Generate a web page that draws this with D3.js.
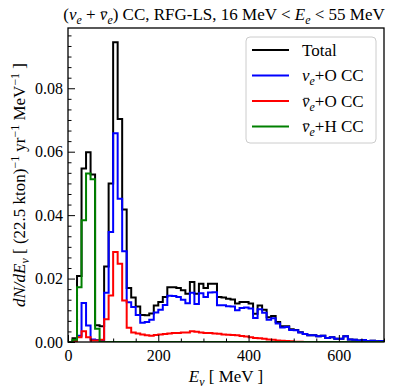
<!DOCTYPE html>
<html lang="en">
<head>
<meta charset="utf-8" />
<title></title>
<style>
  body { margin: 0; background: #fff; }
  text { font-family: "Liberation Serif", "Times New Roman", serif; fill: #000; }
</style>
</head>
<body>
<script src="https://d3js.org/d3.v7.min.js"></script>
<div id="my_dataviz"></div>
<script>
// bin lower edges (MeV), 10 MeV wide
const binWidth = 10;
const binEdges = d3.range(0, 700, binWidth);

// dN/dE values per bin
const totalCC = [
  0, 0.0012, 0.0208, 0.0547, 0.0598, 0.0528, 0.0053, 0.0050, 0.0238, 0.0500,
  0.0945, 0.0703, 0.0418, 0.0170, 0.0140, 0.0112, 0.0085, 0.0084, 0.0090, 0.0115,
  0.0126, 0.0142, 0.0173, 0.0173, 0.0170, 0.0163, 0.0152, 0.0189, 0.0152, 0.0184,
  0.0170, 0.0184, 0.0184, 0.0142, 0.0140, 0.0136, 0.0134, 0.0121, 0.0126, 0.0126,
  0.0121, 0.0089, 0.0115, 0.0102, 0.0078, 0.0082, 0.0063, 0.0050, 0.0050, 0.0040,
  0.0038, 0.0031, 0.0025, 0.0021, 0.0021, 0.0018, 0.0020, 0.0013, 0.0015, 0.0010,
  0.0010, 0.0018, 0.0008, 0.0007, 0.0005, 0.0006, 0.0003, 0.0004, 0.0002, 0.0003
];
const nueO = [
  0, 0.0003, 0.0020, 0.0123, 0.0052, 0.0008, 0.0006, 0.0006, 0.0155, 0.0347,
  0.0658, 0.0452, 0.0286, 0.0125, 0.0110, 0.0085, 0.0061, 0.0063, 0.0070, 0.0093,
  0.0102, 0.0117, 0.0146, 0.0145, 0.0142, 0.0133, 0.0122, 0.0155, 0.0120, 0.0154,
  0.0142, 0.0156, 0.0157, 0.0116, 0.0116, 0.0113, 0.0112, 0.0100, 0.0107, 0.0109,
  0.0106, 0.0076, 0.0103, 0.0092, 0.0070, 0.0075, 0.0058, 0.0046, 0.0047, 0.0038,
  0.0037, 0.0030, 0.0025, 0.0021, 0.0021, 0.0018, 0.0020, 0.0013, 0.0015, 0.0010,
  0.0010, 0.0018, 0.0008, 0.0007, 0.0005, 0.0006, 0.0003, 0.0004, 0.0002, 0.0003
];
const nuebarO = [
  0, 0.0002, 0.0015, 0.0034, 0.0015, 0.0005, 0.0005, 0.0007, 0.0072, 0.0147,
  0.0284, 0.0247, 0.0131, 0.0045, 0.0030, 0.0027, 0.0024, 0.0021, 0.0020, 0.0022,
  0.0024, 0.0025, 0.0027, 0.0028, 0.0028, 0.0030, 0.0030, 0.0034, 0.0032, 0.0030,
  0.0028, 0.0028, 0.0027, 0.0026, 0.0024, 0.0023, 0.0022, 0.0021, 0.0019, 0.0017,
  0.0015, 0.0013, 0.0012, 0.0010, 0.0008, 0.0007, 0.0005, 0.0004, 0.0003, 0.0002,
  0.0001, 0.0001, 0, 0, 0, 0, 0, 0, 0, 0,
  0, 0, 0, 0, 0, 0, 0, 0, 0, 0
];
const nuebarH = [
  0, 0.0007, 0.0173, 0.0384, 0.0531, 0.0513, 0.0042, 0, 0, 0,
  0, 0, 0, 0, 0, 0, 0, 0, 0, 0,
  0, 0, 0, 0, 0, 0, 0, 0, 0, 0,
  0, 0, 0, 0, 0, 0, 0, 0, 0, 0,
  0, 0, 0, 0, 0, 0, 0, 0, 0, 0,
  0, 0, 0, 0, 0, 0, 0, 0, 0, 0,
  0, 0, 0, 0, 0, 0, 0, 0, 0, 0
];

const xMajorTicks = [0, 200, 400, 600];
const yMajorTicks = [0, 0.02, 0.04, 0.06, 0.08];

// text pieces: [string, italic, shift, bar] shift: 0 normal, 1 sub, 2 sup
const seriesList = [
  { name: [["Total", 0, 0]], values: totalCC, color: "#000000" },
  { name: [["ν", 1, 0], ["e", 1, 1], ["+O CC", 0, 0]], values: nueO, color: "#0000ff" },
  { name: [["ν", 1, 0, 1], ["e", 1, 1], ["+O CC", 0, 0]], values: nuebarO, color: "#ff0000" },
  { name: [["ν", 1, 0, 1], ["e", 1, 1], ["+H CC", 0, 0]], values: nuebarH, color: "#008000" }
];

const W = 398, H = 390;
const margin = { top: 28, right: 14, bottom: 48, left: 68 },
  width = W - margin.left - margin.right,
  height = H - margin.top - margin.bottom;

const svg = d3.select("#my_dataviz").append("svg")
  .attr("width", W).attr("height", H);

const g = svg.append("g")
  .attr("transform", `translate(${margin.left},${margin.top})`);

const x = d3.scaleLinear().domain([0, 700]).range([0, width]);
const y = d3.scaleLinear().domain([0, 0.099]).range([height, 0]);

// write a label made of tspans, bars drawn over flagged letters
function richText(sel, parts, size) {
  const bars = [];
  parts.forEach(([s, it, shift, bar], i) => {
    const prev = i > 0 ? parts[i - 1][2] : 0;
    let dy = 0;
    if (prev === 1) dy -= size * 0.25;
    if (prev === 2) dy += size * 0.38;
    if (shift === 1) dy += size * 0.25;
    if (shift === 2) dy -= size * 0.38;
    const ts = sel.append("tspan")
      .attr("dy", dy)
      .attr("font-style", it ? "italic" : "normal")
      .attr("font-size", shift ? size * 0.7 : size)
      .text(s);
    if (bar) bars.push(ts);
  });
  const parent = d3.select(sel.node().parentNode);
  bars.forEach(ts => {
    const r = ts.node().getExtentOfChar(0);
    parent.append("line")
      .attr("x1", r.x + r.width * 0.22).attr("x2", r.x + r.width * 0.92)
      .attr("y1", r.y + r.height * 0.36).attr("y2", r.y + r.height * 0.36)
      .attr("stroke", "#000").attr("stroke-width", 0.9);
  });
}

g.append("clipPath").attr("id", "clip")
  .append("rect").attr("width", width).attr("height", height);

// step outline like histtype='step'
const stepPath = vals => {
  const p = d3.path();
  p.moveTo(x(binEdges[0]), y(0));
  vals.forEach((v, i) => {
    p.lineTo(x(binEdges[i]), y(v));
    p.lineTo(x(binEdges[i] + binWidth), y(v));
  });
  p.lineTo(x(binEdges[binEdges.length - 1] + binWidth), y(0));
  return p.toString();
};

g.append("g").attr("clip-path", "url(#clip)")
  .selectAll("path")
  .data(seriesList)
  .join("path")
  .attr("d", d => stepPath(d.values))
  .attr("fill", "none")
  .attr("stroke", d => d.color)
  .attr("stroke-width", 2)
  .attr("stroke-linejoin", "miter");

// axes with inward ticks
const xMinor = d3.range(0, 701, 50).filter(v => !xMajorTicks.includes(v));
const yMinor = d3.range(1, 30).map(i => i * 0.02 / 6).filter(v => v < 0.099 && Math.abs((v / 0.02) - Math.round(v / 0.02)) > 1e-6);

g.append("g").attr("transform", `translate(0,${height})`)
  .call(d3.axisBottom(x).tickValues(xMajorTicks).tickFormat(d3.format("d"))
    .tickSizeInner(-7).tickSizeOuter(0).tickPadding(8));
g.append("g").attr("transform", `translate(0,${height})`)
  .call(d3.axisBottom(x).tickValues(xMinor).tickFormat("").tickSizeInner(-3.5).tickSizeOuter(0));
g.append("g")
  .call(d3.axisLeft(y).tickValues(yMajorTicks).tickFormat(d3.format(".2f"))
    .tickSizeInner(-7).tickSizeOuter(0).tickPadding(5));
g.append("g")
  .call(d3.axisLeft(y).tickValues(yMinor).tickFormat("").tickSizeInner(-3.5).tickSizeOuter(0));

g.selectAll(".domain").remove();
g.selectAll(".tick line").attr("stroke", "#000").attr("stroke-width", 1);
g.selectAll(".tick text").attr("font-size", 16).attr("font-family", "Liberation Serif");

// frame
g.append("rect").attr("width", width).attr("height", height)
  .attr("fill", "none").attr("stroke", "#000").attr("stroke-width", 1.3);

// legend
const leg = svg.append("g").attr("transform", "translate(246,37)");
leg.append("rect").attr("width", 130).attr("height", 106).attr("rx", 4)
  .attr("fill", "#fff").attr("fill-opacity", 0.8)
  .attr("stroke", "#cccccc").attr("stroke-width", 1);
seriesList.forEach((s, i) => {
  const yy = 13 + i * 25.5;
  leg.append("line").attr("x1", 6).attr("x2", 43).attr("y1", yy).attr("y2", yy)
    .attr("stroke", s.color).attr("stroke-width", 2);
  const t = leg.append("text").attr("x", 56).attr("y", yy + 5.5);
  richText(t, s.name, 17);
});

// title
const title = svg.append("text").attr("x", margin.left + width / 2 - 2).attr("y", 20)
  .attr("text-anchor", "middle");
richText(title, [["(", 0, 0], ["ν", 1, 0], ["e", 1, 1], [" + ", 0, 0], ["ν", 1, 0, 1], ["e", 1, 1],
  [") CC, RFG-LS, 16 MeV < ", 0, 0], ["E", 1, 0], ["e", 1, 1], [" < 55 MeV", 0, 0]], 17);

// x label
const xl = svg.append("text").attr("x", margin.left + width / 2).attr("y", 382)
  .attr("text-anchor", "middle");
richText(xl, [["E", 1, 0], ["ν", 1, 1], ["  [ MeV ]", 0, 0]], 17);

// y label
const yl = svg.append("text")
  .attr("transform", `translate(25,${margin.top + height / 2}) rotate(-90)`)
  .attr("text-anchor", "middle");
richText(yl, [["dN/dE", 1, 0], ["ν", 1, 1], ["  [ (22.5 kton)", 0, 0], ["−1", 0, 2], [" yr", 0, 0],
  ["−1", 0, 2], [" MeV", 0, 0], ["−1", 0, 2], [" ]", 0, 0]], 17);
</script>
</body>
</html>
